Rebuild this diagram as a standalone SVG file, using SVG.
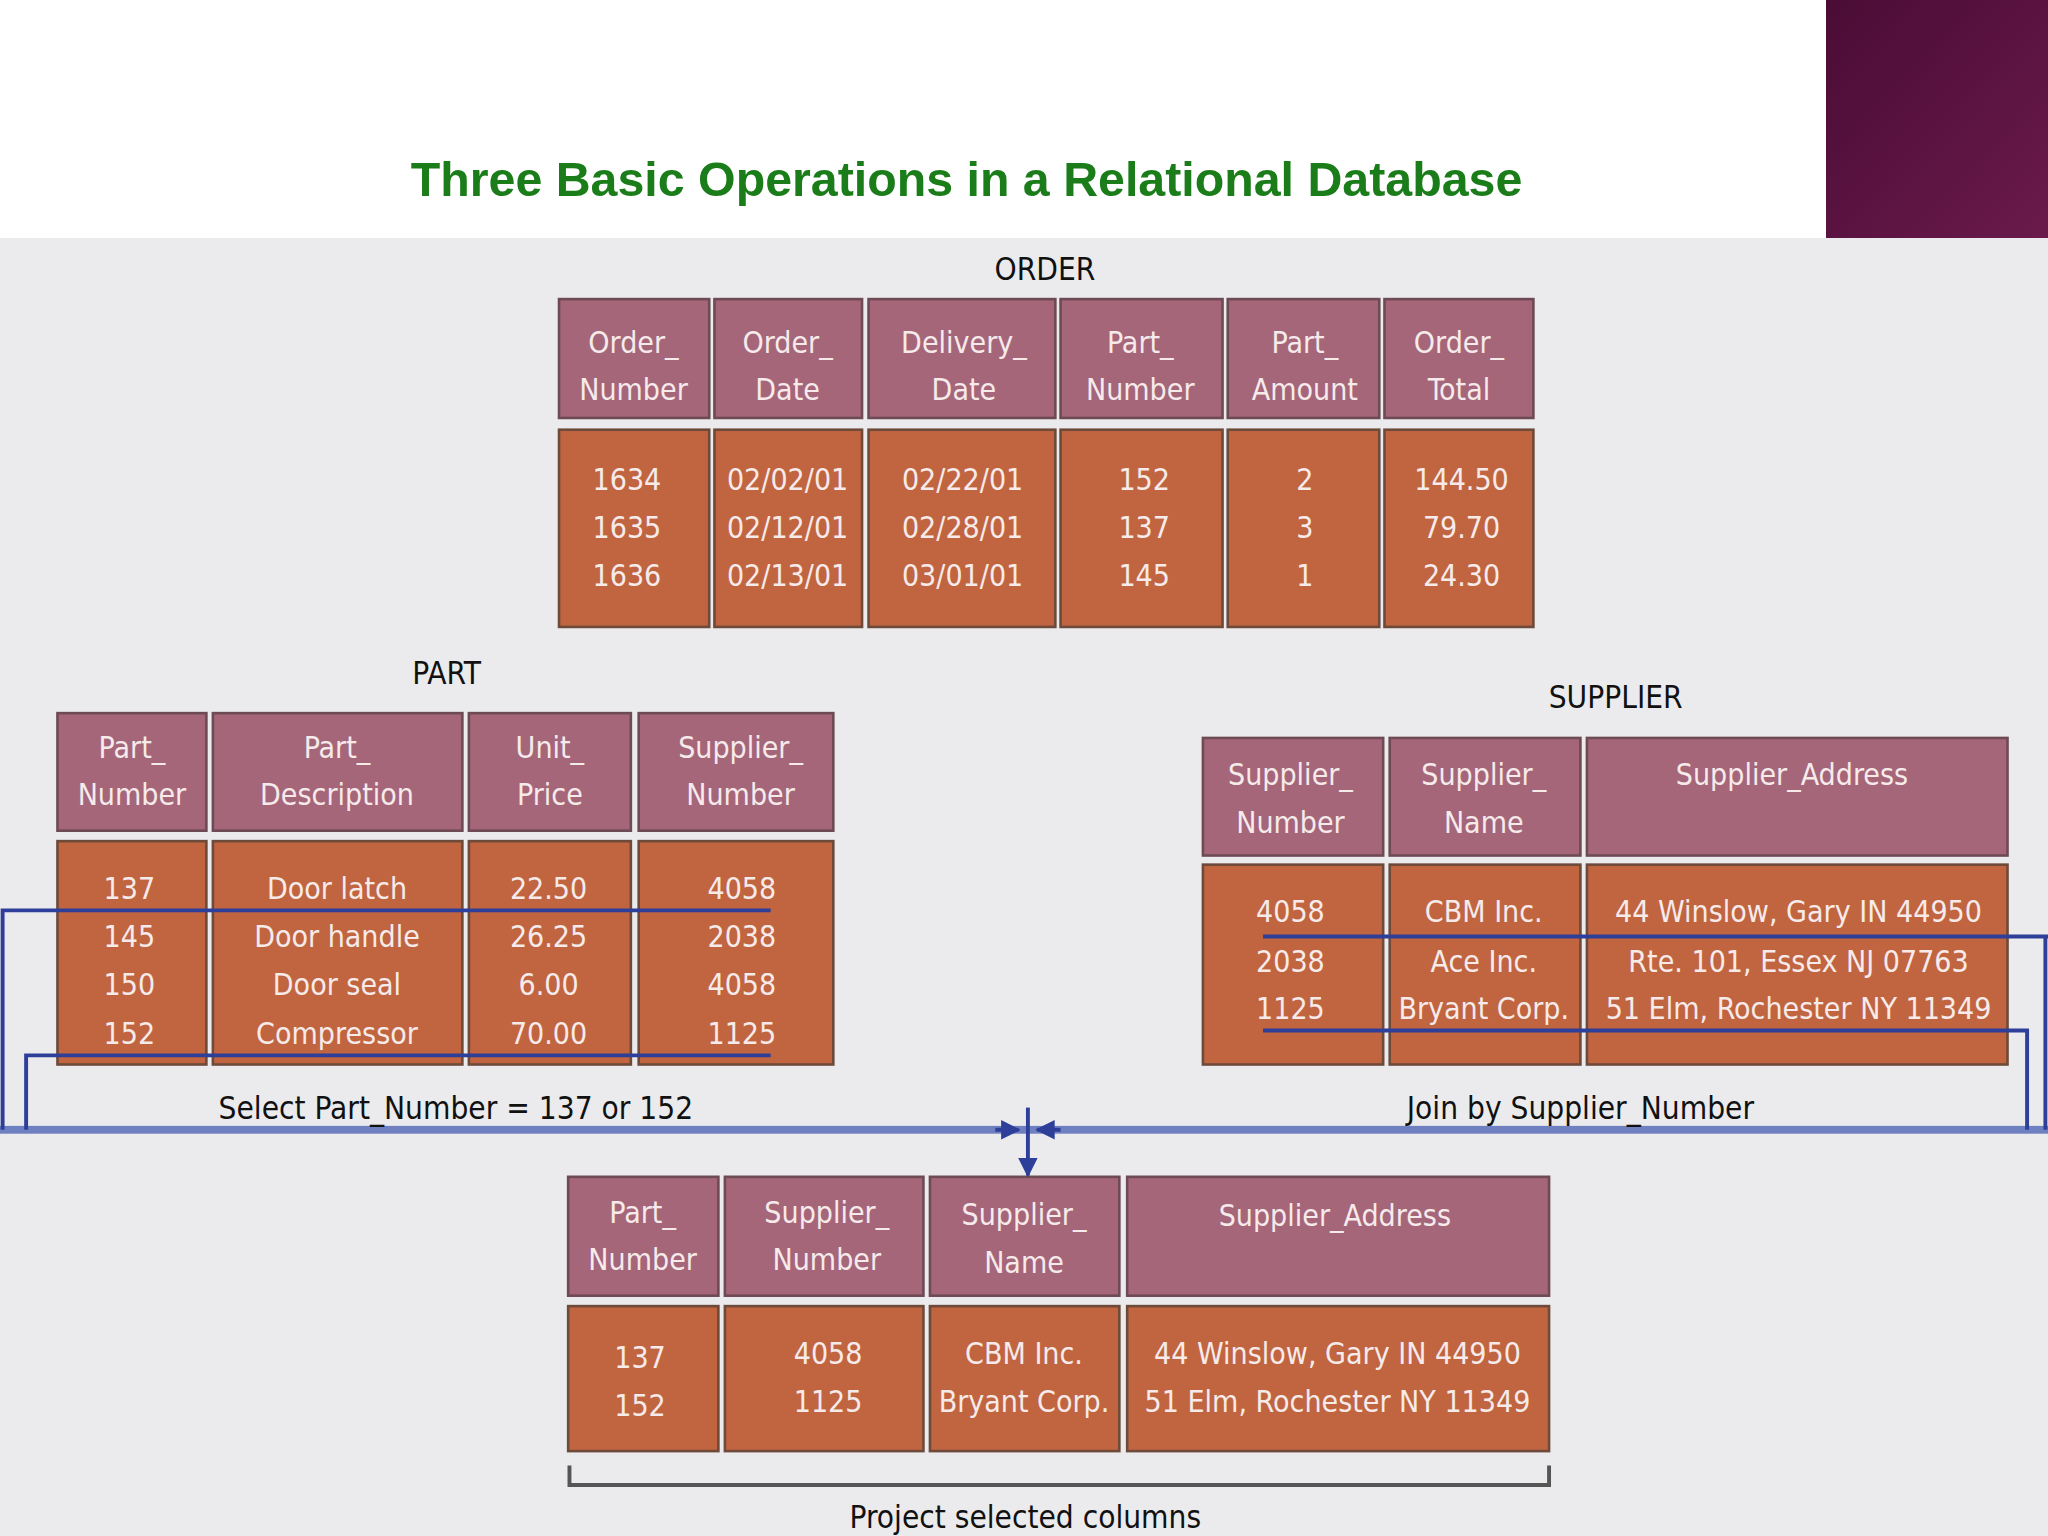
<svg xmlns="http://www.w3.org/2000/svg" width="2048" height="1536" viewBox="0 0 2048 1536">
<defs>
<linearGradient id="corner" x1="0" y1="0" x2="1" y2="1"><stop offset="0" stop-color="#4a0c35"/><stop offset="1" stop-color="#6a1a4c"/></linearGradient>
<marker id="ah" viewBox="0 0 10 10" refX="9" refY="5" markerWidth="5" markerHeight="5" orient="auto"><path d="M0,0 L10,5 L0,10 z" fill="#2e3f9a"/></marker>
</defs>
<style>
.h{fill:#a5667a;stroke:#6e4a55;stroke-width:2}
.d{fill:#c0653f;stroke:#6e4a3a;stroke-width:2}
.t{font-family:"DejaVu Sans Condensed","Liberation Sans",sans-serif;font-size:23px;fill:#f6eaea;text-anchor:middle}
.l{font-family:"DejaVu Sans Condensed","Liberation Sans",sans-serif;font-size:24px;fill:#111;text-anchor:middle}
.b{fill:none;stroke:#2e3f9a;stroke-width:3}
</style>
<rect width="2048" height="1536" fill="#ebebee"/>
<rect width="2048" height="238" fill="#ffffff"/>
<rect x="1826" y="0" width="222" height="238" fill="url(#corner)"/>
<g transform="scale(1.30612)">
<text x="740" y="150" font-family="Liberation Sans,Arial,sans-serif" font-weight="bold" font-size="37" fill="#1a7d1a" text-anchor="middle">Three Basic Operations in a Relational Database</text>

<g id="order">
<text class="l" x="800" y="214">ORDER</text>
<rect class="h" x="428" y="229" width="115" height="91"/><rect class="h" x="547" y="229" width="113" height="91"/><rect class="h" x="665" y="229" width="143" height="91"/><rect class="h" x="812" y="229" width="124" height="91"/><rect class="h" x="940" y="229" width="116" height="91"/><rect class="h" x="1060" y="229" width="114" height="91"/>
<rect class="d" x="428" y="329" width="115" height="151"/><rect class="d" x="547" y="329" width="113" height="151"/><rect class="d" x="665" y="329" width="143" height="151"/><rect class="d" x="812" y="329" width="124" height="151"/><rect class="d" x="940" y="329" width="116" height="151"/><rect class="d" x="1060" y="329" width="114" height="151"/>
<text class="t" x="485" y="270">Order_</text><text class="t" x="485" y="306">Number</text>
<text class="t" x="603" y="270">Order_</text><text class="t" x="603" y="306">Date</text>
<text class="t" x="738" y="270">Delivery_</text><text class="t" x="738" y="306">Date</text>
<text class="t" x="873" y="270">Part_</text><text class="t" x="873" y="306">Number</text>
<text class="t" x="999" y="270">Part_</text><text class="t" x="999" y="306">Amount</text>
<text class="t" x="1117" y="270">Order_</text><text class="t" x="1117" y="306">Total</text>
<text class="t" x="480" y="375">1634</text><text class="t" x="480" y="412">1635</text><text class="t" x="480" y="449">1636</text>
<text class="t" x="603" y="375">02/02/01</text><text class="t" x="603" y="412">02/12/01</text><text class="t" x="603" y="449">02/13/01</text>
<text class="t" x="737" y="375">02/22/01</text><text class="t" x="737" y="412">02/28/01</text><text class="t" x="737" y="449">03/01/01</text>
<text class="t" x="876" y="375">152</text><text class="t" x="876" y="412">137</text><text class="t" x="876" y="449">145</text>
<text class="t" x="999" y="375">2</text><text class="t" x="999" y="412">3</text><text class="t" x="999" y="449">1</text>
<text class="t" x="1119" y="375">144.50</text><text class="t" x="1119" y="412">79.70</text><text class="t" x="1119" y="449">24.30</text>
</g>

<g id="part">
<text class="l" x="342" y="524">PART</text>
<rect class="h" x="44" y="546" width="114" height="90"/><rect class="h" x="163" y="546" width="191" height="90"/><rect class="h" x="359" y="546" width="124" height="90"/><rect class="h" x="489" y="546" width="149" height="90"/>
<rect class="d" x="44" y="644" width="114" height="171"/><rect class="d" x="163" y="644" width="191" height="171"/><rect class="d" x="359" y="644" width="124" height="171"/><rect class="d" x="489" y="644" width="149" height="171"/>
<text class="t" x="101" y="580">Part_</text><text class="t" x="101" y="616">Number</text>
<text class="t" x="258" y="580">Part_</text><text class="t" x="258" y="616">Description</text>
<text class="t" x="421" y="580">Unit_</text><text class="t" x="421" y="616">Price</text>
<text class="t" x="567" y="580">Supplier_</text><text class="t" x="567" y="616">Number</text>
<text class="t" x="99" y="688">137</text><text class="t" x="99" y="725">145</text><text class="t" x="99" y="762">150</text><text class="t" x="99" y="799">152</text>
<text class="t" x="258" y="688">Door latch</text><text class="t" x="258" y="725">Door handle</text><text class="t" x="258" y="762">Door seal</text><text class="t" x="258" y="799">Compressor</text>
<text class="t" x="420" y="688">22.50</text><text class="t" x="420" y="725">26.25</text><text class="t" x="420" y="762">6.00</text><text class="t" x="420" y="799">70.00</text>
<text class="t" x="568" y="688">4058</text><text class="t" x="568" y="725">2038</text><text class="t" x="568" y="762">4058</text><text class="t" x="568" y="799">1125</text>
</g>

<g id="supplier">
<text class="l" x="1237" y="542">SUPPLIER</text>
<rect class="h" x="921" y="565" width="138" height="90"/><rect class="h" x="1064" y="565" width="146" height="90"/><rect class="h" x="1215" y="565" width="322" height="90"/>
<rect class="d" x="921" y="662" width="138" height="153"/><rect class="d" x="1064" y="662" width="146" height="153"/><rect class="d" x="1215" y="662" width="322" height="153"/>
<text class="t" x="988" y="601">Supplier_</text><text class="t" x="988" y="638">Number</text>
<text class="t" x="1136" y="601">Supplier_</text><text class="t" x="1136" y="638">Name</text>
<text class="t" x="1372" y="601">Supplier_Address</text>
<text class="t" x="988" y="706">4058</text><text class="t" x="988" y="744">2038</text><text class="t" x="988" y="780">1125</text>
<text class="t" x="1136" y="706">CBM Inc.</text><text class="t" x="1136" y="744">Ace Inc.</text><text class="t" x="1136" y="780">Bryant Corp.</text>
<text class="t" x="1377" y="706">44 Winslow, Gary IN   44950</text><text class="t" x="1377" y="744">Rte. 101, Essex  NJ   07763</text><text class="t" x="1377" y="780">51 Elm, Rochester  NY   11349</text>
</g>

<g id="result">
<rect class="h" x="435" y="901" width="115" height="91"/><rect class="h" x="555" y="901" width="152" height="91"/><rect class="h" x="712" y="901" width="145" height="91"/><rect class="h" x="863" y="901" width="323" height="91"/>
<rect class="d" x="435" y="1000" width="115" height="111"/><rect class="d" x="555" y="1000" width="152" height="111"/><rect class="d" x="712" y="1000" width="145" height="111"/><rect class="d" x="863" y="1000" width="323" height="111"/>
<text class="t" x="492" y="936">Part_</text><text class="t" x="492" y="972">Number</text>
<text class="t" x="633" y="936">Supplier_</text><text class="t" x="633" y="972">Number</text>
<text class="t" x="784" y="938">Supplier_</text><text class="t" x="784" y="975">Name</text>
<text class="t" x="1022" y="939">Supplier_Address</text>
<text class="t" x="490" y="1047">137</text><text class="t" x="490" y="1084">152</text>
<text class="t" x="634" y="1044">4058</text><text class="t" x="634" y="1081">1125</text>
<text class="t" x="784" y="1044">CBM Inc.</text><text class="t" x="784" y="1081">Bryant Corp.</text>
<text class="t" x="1024" y="1044">44 Winslow, Gary IN   44950</text><text class="t" x="1024" y="1081">51 Elm, Rochester  NY   11349</text>
<path d="M436,1122 V1137 H1186 V1122" fill="none" stroke="#555" stroke-width="3"/>
<text class="l" x="785" y="1170">Project selected columns</text>
</g>

<g id="connectors">
<rect x="0" y="862" width="1568" height="6" fill="#6f80c0"/>
<path class="b" d="M590,697 H2 V865"/>
<path class="b" d="M590,808 H20 V865"/>
<path class="b" d="M967,717 H1568"/>
<path class="b" d="M967,789 H1552 V865"/>
<path class="b" d="M1566,717 V865"/>
<path class="b" d="M762,865 H780" marker-end="url(#ah)"/>
<path class="b" d="M812,865 H794" marker-end="url(#ah)"/>
<path class="b" d="M787,848 V900" marker-end="url(#ah)"/>
<text class="l" x="349" y="857">Select Part_Number = 137 or 152</text>
<text class="l" x="1210" y="857">Join by Supplier_Number</text>
</g>
</g>
</svg>
